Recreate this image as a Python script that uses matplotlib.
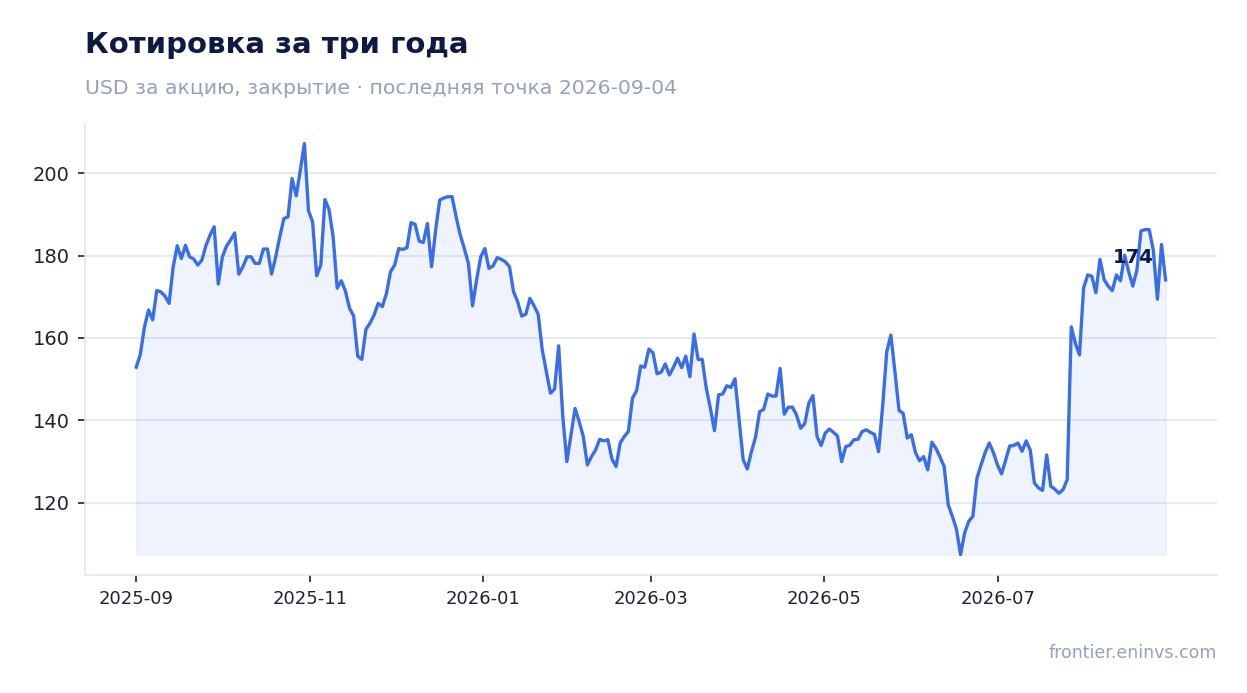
import matplotlib.pyplot as plt
import numpy as np
import pandas as pd

# closing prices
prices = [
    152.9, 156.1, 162.7, 166.8, 164.4, 171.5, 171.2, 170.2, 168.4, 177.3,
    182.4, 179.3, 182.5, 179.7, 179.2, 177.7, 178.9, 182.5, 185.0, 187.0,
    173.1, 179.7, 182.3, 183.8, 185.5, 175.5, 177.3, 179.7, 179.7, 178.1,
    178.1, 181.6, 181.6, 175.5, 179.7, 184.6, 189.0, 189.4, 198.7, 194.5,
    200.7, 207.2, 190.9, 188.2,
    175.1, 177.7, 193.6, 191.2, 184.6, 172.1, 173.9, 171.4, 167.2, 165.4,
    155.6, 154.8, 162.1, 163.6, 165.6, 168.4, 167.6, 170.8, 176.1, 177.7,
    181.7, 181.5, 181.9, 188.0, 187.6, 183.5, 183.2, 187.8, 177.3, 186.2,
    193.5, 194.0, 194.3, 194.3, 189.4, 185.0, 181.7, 178.1, 167.8, 174.2,
    179.7, 181.7,
    176.9, 177.5, 179.5, 179.1, 178.5, 177.3, 171.2, 168.8, 165.3, 165.8,
    169.6, 167.8, 165.8, 157.1, 151.8, 146.6, 147.6, 158.1, 141.0, 130.0,
    136.5, 142.9, 139.7, 136.1, 129.2, 131.2, 132.8, 135.4, 135.0, 135.3,
    130.6, 128.8, 134.5, 136.1, 137.3, 145.4, 147.2, 153.2, 152.9, 157.3,
    156.4,
    151.3, 151.7, 153.7, 151.0, 152.9, 155.1, 152.8, 155.6, 150.6, 161.0,
    154.8, 154.8, 147.8, 142.9, 137.5, 146.2, 146.4, 148.4, 148.0, 150.1,
    140.1, 130.4, 128.2, 132.4, 135.9, 142.1, 142.7, 146.4, 145.9, 145.9,
    152.6, 141.5, 143.2, 143.2, 141.3, 138.1, 139.2, 144.2, 146.0, 136.1,
    133.9, 136.9, 137.9, 137.1, 136.2,
    130.0, 133.6, 134.0, 135.3, 135.4, 137.3, 137.7, 137.1, 136.6, 132.4,
    143.4, 156.7, 160.7, 151.8, 142.4, 141.7, 135.7, 136.5, 132.2, 130.2,
    131.2, 128.0, 134.7, 133.2, 131.1, 128.8, 119.5, 116.7, 113.6, 107.4,
    112.7, 115.5, 116.7, 126.0, 129.2, 132.2, 134.5, 132.2, 129.2, 127.0,
    130.4, 133.8, 133.9, 134.5, 132.5, 135.0, 132.8, 124.8, 123.6, 123.0,
    131.6, 124.0, 123.3, 122.3, 123.2, 125.6, 162.7, 158.7, 155.9, 172.1,
    175.3, 175.0, 171.0, 179.1, 174.2, 172.6, 171.5, 175.3, 173.9, 180.1,
    176.1, 172.6, 176.5, 186.0, 186.3, 186.3, 181.3, 169.4, 182.7, 174.1,
]
dates = pd.date_range("2025-09-01", "2026-08-29", periods=len(prices))
tick_dates = pd.to_datetime(["2025-09-01", "2025-11-01", "2026-01-01",
                             "2026-03-01", "2026-05-01", "2026-07-01"])
tick_labels = ["2025-09", "2025-11", "2026-01", "2026-03", "2026-05", "2026-07"]
y_ticks = [120, 140, 160, 180, 200]

blue = "#3a6ee8"
navy = "#0d1a44"
grey = "#94a3b8"

fig = plt.figure(figsize=(12.47, 6.93), dpi=100)
ax = fig.add_axes([0.068, 0.170, 0.908, 0.6525])

vals = np.array(prices)
ax.fill_between(dates, vals, vals.min(), color=blue, alpha=0.08, lw=1)
ax.plot(dates, vals, color=blue, lw=2.4, solid_joinstyle="round")

ax.annotate(f"{vals[-1]:.0f}", (dates[-1], vals[-1]), xytext=(-9, 9),
            textcoords="offset points", ha="right", va="bottom",
            fontsize=14, fontweight="bold", color=navy)

ax.set_xticks(tick_dates)
ax.set_xticklabels(tick_labels)
ax.set_yticks(y_ticks)
ax.tick_params(axis="x", labelsize=13, colors="#1e2330", length=5, width=1.2, pad=6)
ax.tick_params(axis="y", labelsize=14, colors="#1e2330", length=5, width=1.2, pad=6)
ax.grid(axis="y", color="#e2e6f0", lw=1.2)
ax.set_axisbelow(True)
for side in ["top", "right"]:
    ax.spines[side].set_visible(False)
for side in ["left", "bottom"]:
    ax.spines[side].set_color("#e2e6f0")
    ax.spines[side].set_linewidth(1.2)

fig.text(85 / 1247, 1 - 53 / 693, "Котировка за три года", fontsize=21,
         fontweight="bold", color=navy, va="baseline")
fig.text(85 / 1247, 1 - 94 / 693, "USD за акцию, закрытие · последняя точка 2026-09-04",
         fontsize=14.7, color=grey, va="baseline")
fig.text(1217 / 1247, 1 - 658 / 693, "frontier.eninvs.com", fontsize=12.5,
         color=grey, ha="right", va="baseline")

fig.savefig("out.png", dpi=100)
